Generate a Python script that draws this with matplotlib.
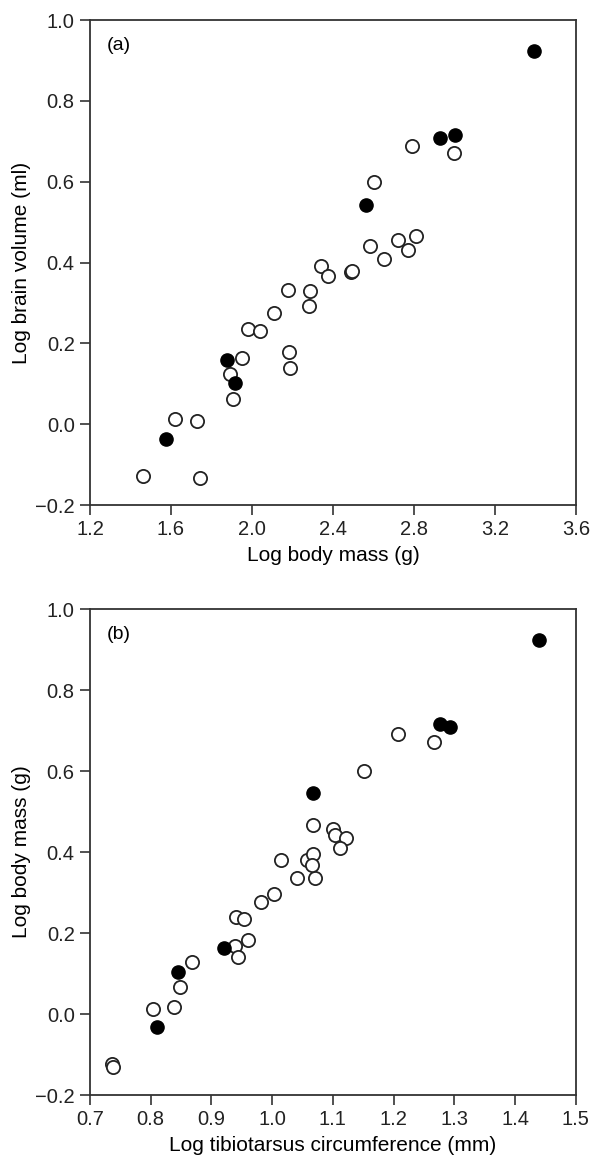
import numpy as np
import matplotlib.pyplot as plt

plt.rcParams['font.family'] = ['Liberation Sans', 'DejaVu Sans']

# --- (a) log brain volume vs log body mass ---
a_open_x = [1.464, 1.745, 1.621, 1.728, 1.908, 1.893, 1.949, 1.979, 2.042, 2.111,
            2.185, 2.189, 2.177, 2.288, 2.284, 2.339, 2.377, 2.490, 2.495, 2.585,
            2.652, 2.721, 2.771, 2.812, 2.602, 2.789, 2.999]
a_open_y = [-0.128, -0.134, 0.012, 0.007, 0.062, 0.124, 0.165, 0.235, 0.230, 0.274,
            0.179, 0.138, 0.332, 0.330, 0.292, 0.392, 0.367, 0.377, 0.380, 0.441,
            0.408, 0.455, 0.432, 0.465, 0.600, 0.689, 0.670]
a_fill_x = [1.575, 1.875, 1.916, 2.565, 2.928, 3.002, 3.395]
a_fill_y = [-0.037, 0.160, 0.101, 0.542, 0.709, 0.715, 0.924]

# --- (b) vs log tibiotarsus circumference ---
b_open_x = [0.736, 0.738, 0.803, 0.838, 0.848, 0.868, 0.939, 0.943, 0.961, 0.940,
            0.954, 0.981, 1.003, 1.041, 1.071, 1.015, 1.058, 1.068, 1.066, 1.068,
            1.100, 1.104, 1.121, 1.111, 1.152, 1.207, 1.267]
b_open_y = [-0.123, -0.130, 0.012, 0.018, 0.066, 0.128, 0.168, 0.140, 0.183, 0.239,
            0.234, 0.277, 0.296, 0.337, 0.336, 0.380, 0.380, 0.395, 0.368, 0.468,
            0.457, 0.442, 0.435, 0.411, 0.601, 0.691, 0.672]
b_fill_x = [0.810, 0.845, 0.920, 1.067, 1.277, 1.293, 1.440]
b_fill_y = [-0.031, 0.103, 0.162, 0.546, 0.716, 0.708, 0.923]

fig = plt.figure(figsize=(6.02, 11.61), dpi=100)
ax1 = fig.add_axes([0.1495, 0.565, 0.807, 0.4177])
ax2 = fig.add_axes([0.1495, 0.0568, 0.807, 0.4186])


def draw(ax, ox, oy, fx, fy, xlim, xticks, xlabel, ylabel, tag):
    ax.plot(ox, oy, 'o', ls='none', ms=9.5, mfc='white', mec='#222222', mew=1.3, clip_on=False)
    ax.plot(fx, fy, 'o', ls='none', ms=9.5, mfc='black', mec='black', mew=1, clip_on=False)
    ax.set_xlim(*xlim)
    ax.set_ylim(-0.2, 1.0)
    ax.set_xticks(xticks)
    ax.set_xticklabels([f'{t:.1f}' for t in xticks])
    ax.set_yticks(np.arange(-0.2, 1.01, 0.2))
    ax.set_yticklabels(['\u22120.2', '0.0', '0.2', '0.4', '0.6', '0.8', '1.0'])
    ax.tick_params(direction='out', length=7, width=1.1, labelsize=14.5, colors='#222222', pad=4)
    for s in ax.spines.values():
        s.set_linewidth(1.3)
        s.set_color('#333333')
    ax.set_xlabel(xlabel, fontsize=15, labelpad=5)
    ax.set_ylabel(ylabel, fontsize=15, labelpad=3)
    ax.text(0.035, 0.965, tag, transform=ax.transAxes, fontsize=14, va='top', ha='left')


draw(ax1, a_open_x, a_open_y, a_fill_x, a_fill_y, (1.2, 3.6),
     [1.2, 1.6, 2.0, 2.4, 2.8, 3.2, 3.6], 'Log body mass (g)', 'Log brain volume (ml)', '(a)')
draw(ax2, b_open_x, b_open_y, b_fill_x, b_fill_y, (0.7, 1.5),
     [0.7, 0.8, 0.9, 1.0, 1.1, 1.2, 1.3, 1.4, 1.5], 'Log tibiotarsus circumference (mm)',
     'Log body mass (g)', '(b)')

fig.savefig('out.png', dpi=100)
